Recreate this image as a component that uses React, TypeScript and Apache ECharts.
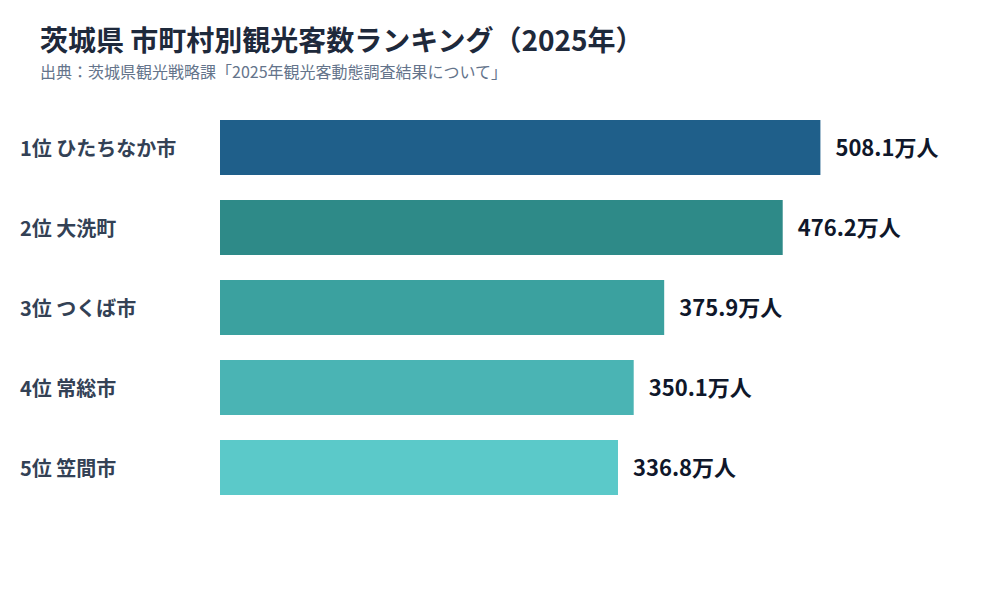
import React, { useEffect, useRef } from 'react'
import * as echarts from 'echarts'

const titleText = '茨城県 市町村別観光客数ランキング（2025年）'
const sourceText = '出典：茨城県観光戦略課「2025年観光客動態調査結果について」'

const cities = ['1位 ひたちなか市', '2位 大洗町', '3位 つくば市', '4位 常総市', '5位 笠間市']
const visitors = [508.1, 476.2, 375.9, 350.1, 336.8]
const barColors = ['#1F5F8A', '#2E8A88', '#3BA19F', '#4AB4B4', '#5BC9C9']

const FONT = '"Noto Sans CJK JP", "Noto Sans", sans-serif'

const App: React.FC = () => {
  const chartRef = useRef<HTMLDivElement>(null)

  useEffect(() => {
    if (!chartRef.current) return
    document.body.style.margin = '0'

    const chart = echarts.init(chartRef.current, undefined, { renderer: 'svg' })

    const option: echarts.EChartsOption = {
      animation: false,
      backgroundColor: '#ffffff',
      textStyle: { fontFamily: FONT },
      title: [
        {
          text: titleText,
          left: 40,
          top: 25,
          padding: 0,
          textStyle: {
            fontFamily: FONT,
            fontSize: 28,
            fontWeight: 'bold',
            color: '#1E293B',
            lineHeight: 28,
          },
        },
        {
          text: sourceText,
          left: 40,
          top: 62.5,
          padding: 0,
          textStyle: {
            fontFamily: FONT,
            fontSize: 16,
            fontWeight: 'normal',
            color: '#64748B',
            lineHeight: 16,
          },
        },
      ],
      grid: {
        left: 220,
        right: 71,
        top: 107.5,
        height: 400,
      },
      xAxis: {
        type: 'value',
        min: 0,
        max: 600,
        show: false,
      },
      yAxis: {
        type: 'category',
        data: cities,
        inverse: true,
        axisLine: { show: false },
        axisTick: { show: false },
        splitLine: { show: false },
        axisLabel: {
          align: 'left',
          margin: 200,
          fontFamily: FONT,
          fontSize: 20,
          fontWeight: 'bold',
          color: '#334155',
        },
      },
      series: [
        {
          type: 'bar',
          data: visitors.map((v, i) => ({
            value: v,
            itemStyle: { color: barColors[i] },
          })),
          barWidth: 55,
          label: {
            show: true,
            position: 'right',
            distance: 15,
            offset: [0, -2],
            formatter: (p: any) => `${p.value.toFixed(1)}万人`,
            fontFamily: FONT,
            fontSize: 22,
            fontWeight: 'bold',
            color: '#0F172A',
          },
        },
      ],
    }

    chart.setOption(option)

    return () => {
      chart.dispose()
    }
  }, [])

  return <div ref={chartRef} style={{ width: 1000, height: 600 }} />
}

export default App
